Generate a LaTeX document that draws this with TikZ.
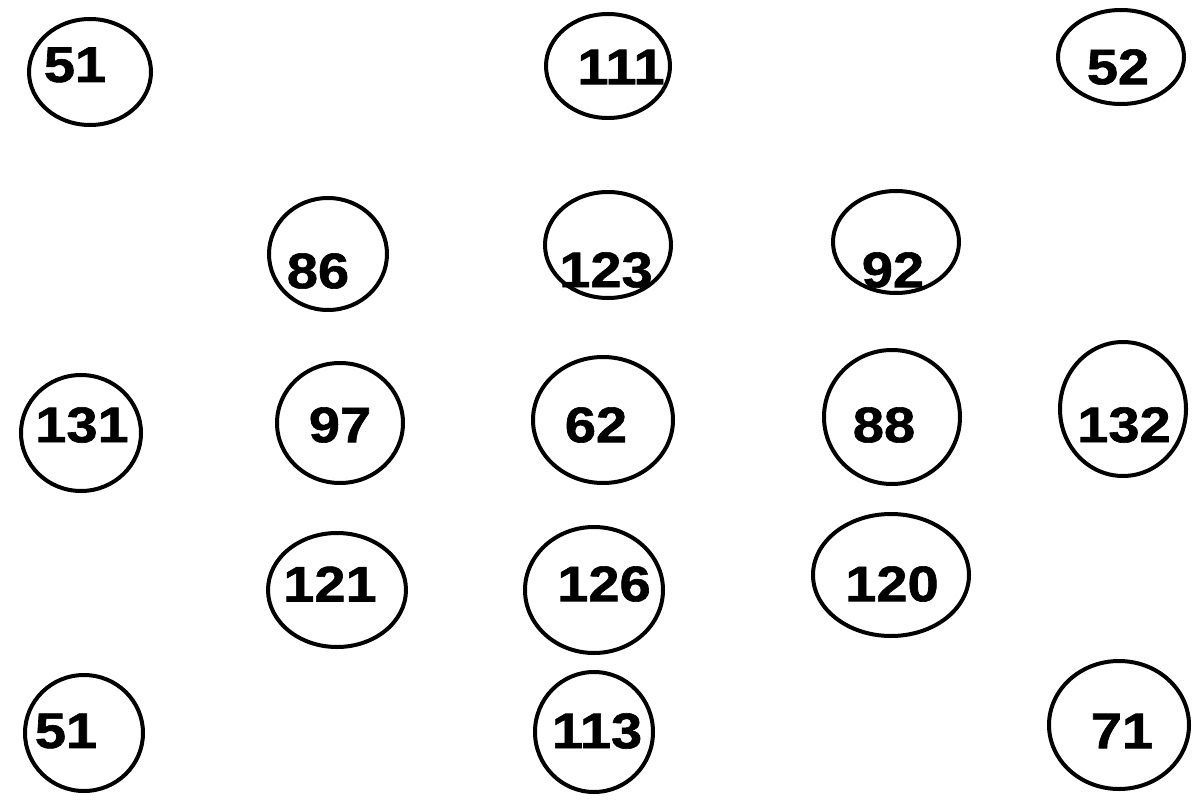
\documentclass[tikz,border=0pt]{standalone}
\usepackage{fontspec}
\setmainfont{Liberation Sans}
\newfontfamily\numfont{Liberation Sans Bold}[FakeBold=1.2]
\usetikzlibrary{shapes.geometric}
\tikzset{
  ring/.style={draw=black, line width=4pt, ellipse, inner sep=0pt},
  num/.style={inner sep=0pt, anchor=center, font=\fontsize{50}{60}\numfont}
}
\newcommand{\xnum}[1]{\scalebox{1.12}[1]{#1}}
\begin{document}
\begin{tikzpicture}[x=1pt,y=-1pt]
\useasboundingbox (0,0) rectangle (1200,800);
% row 1
\node[ring, minimum width=122pt, minimum height=106pt] (e1) at (90,72) {};
\node[num] (t1) at (75,65) {\xnum{51}};
\node[ring, minimum width=124pt, minimum height=104pt] (e2) at (608,66) {};
\node[num] (t2) at (621,67) {\xnum{111}};
\node[ring, minimum width=126pt, minimum height=94pt] (e3) at (1121,57) {};
\node[num] (t3) at (1118,67) {\xnum{52}};
% row 2
\node[ring, minimum width=118pt, minimum height=112pt] (e4) at (328,254) {};
\node[num] (t4) at (318,271) {\xnum{86}};
\node[ring, minimum width=126pt, minimum height=106pt] (e5) at (608,245) {};
\node[num] (t5) at (606,270) {\xnum{123}};
\node[ring, minimum width=126pt, minimum height=102pt] (e6) at (896,242) {};
\node[num] (t6) at (893,270) {\xnum{92}};
% row 3
\node[ring, minimum width=120pt, minimum height=116pt] (e7) at (81,433) {};
\node[num] (t7) at (82,425) {\xnum{131}};
\node[ring, minimum width=126pt, minimum height=120pt] (e8) at (340,423) {};
\node[num] (t8) at (340,425) {\xnum{97}};
\node[ring, minimum width=140pt, minimum height=126pt] (e9) at (603,420) {};
\node[num] (t9) at (596,425) {\xnum{62}};
\node[ring, minimum width=136pt, minimum height=134pt] (e10) at (892,417) {};
\node[num] (t10) at (884,425) {\xnum{88}};
\node[ring, minimum width=126pt, minimum height=134pt] (e11) at (1123,409) {};
\node[num] (t11) at (1124,425) {\xnum{132}};
% row 4
\node[ring, minimum width=138pt, minimum height=114pt] (e12) at (337,590) {};
\node[num] (t12) at (330,584) {\xnum{121}};
\node[ring, minimum width=138pt, minimum height=126pt] (e13) at (594,590) {};
\node[num] (t13) at (604,584) {\xnum{126}};
\node[ring, minimum width=156pt, minimum height=122pt] (e14) at (891,575) {};
\node[num] (t14) at (892,584) {\xnum{120}};
% row 5
\node[ring, minimum width=118pt, minimum height=116pt] (e15) at (84,733) {};
\node[num] (t15) at (66,731) {\xnum{51}};
\node[ring, minimum width=118pt, minimum height=120pt] (e16) at (594,732) {};
\node[num] (t16) at (597,731) {\xnum{113}};
\node[ring, minimum width=140pt, minimum height=128pt] (e17) at (1119,725) {};
\node[num] (t17) at (1122,731) {\xnum{71}};
\end{tikzpicture}
\end{document}
